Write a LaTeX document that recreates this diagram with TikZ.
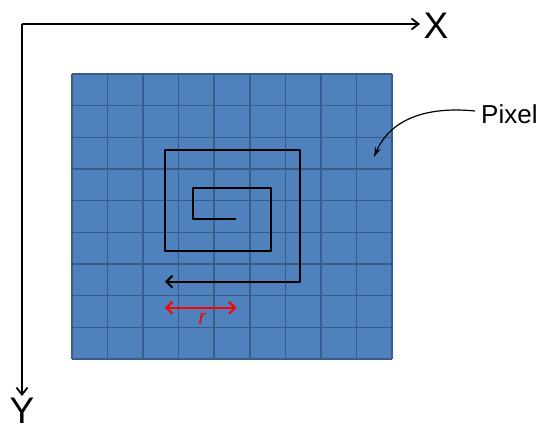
\documentclass[tikz,border=0pt]{standalone}
\usepackage{fontspec}
\setmainfont{Liberation Sans}
\usetikzlibrary{arrows.meta}
\definecolor{cellblue}{HTML}{4F81BD}
\definecolor{gridline}{HTML}{385D8A}
\definecolor{rred}{HTML}{FF0000}
\begin{document}
\begin{tikzpicture}[x=1pt,y=-1pt,
  axis/.style={line width=1.8pt,-{Straight Barb[length=7pt,width=11pt,line width=1.8pt]}},
  spiral/.style={line width=2.2pt,line join=round,-{Straight Barb[length=6pt,width=12pt,line width=2pt]}},
  rarrow/.style={line width=2.2pt,draw=rred,{Straight Barb[length=6pt,width=12pt,line width=2pt]}-{Straight Barb[length=6pt,width=12pt,line width=2pt]}},
  callout/.style={line width=1.2pt,-{Stealth[length=10pt,width=6pt]}},
  bigl/.style={font=\fontsize{37}{37}\selectfont,inner sep=0pt},
  pixl/.style={font=\fontsize{26}{26}\selectfont,inner sep=0pt,anchor=west},
  rl/.style={font=\fontsize{21}{21}\selectfont\itshape,text=rred,inner sep=0pt}]
\useasboundingbox (0,0) rectangle (543,428);
% grid
\fill[cellblue] (72,74) rectangle (392,359);
\foreach \i in {0,...,9} {
  \draw[gridline,line width=1.5pt] ({72+\i*320/9},74) -- ({72+\i*320/9},359);
  \draw[gridline,line width=1.5pt] (72,{74+\i*285/9}) -- (392,{74+\i*285/9});
}
% axes
\coordinate (O) at (22,24);
\coordinate (xe) at (420,24);
\coordinate (ye) at (22,396);
\node[bigl] (X) at (436,26) {X};
\node[bigl,anchor=north] (Y) at (22,398) {Y};
\draw[axis] (O) -- (xe);
\draw[axis] (O) -- (ye);
% spiral
\coordinate (s0) at (235.7,219.3);
\coordinate (s1) at (193.3,219.3);
\coordinate (s2) at (193.3,188.3);
\coordinate (s3) at (271.3,188.3);
\coordinate (s4) at (271.3,251);
\coordinate (s5) at (165.3,251);
\coordinate (s6) at (165.3,150.3);
\coordinate (s7) at (300,150.3);
\coordinate (s8) at (300,281.7);
\coordinate (s9) at (165,281.7);
\draw[spiral] (s0) -- (s1) -- (s2) -- (s3) -- (s4) -- (s5) -- (s6) -- (s7) -- (s8) -- (s9);
% r
\coordinate (r1) at (165,307.7);
\coordinate (r2) at (236.5,307.7);
\draw[rarrow] (r1) -- (r2);
\node[rl] (r) at (202,319) {r};
% pixel callout
\node[pixl] (P) at (481,114) {Pixel};
\coordinate (pt) at (374,157);
\draw[callout] (P.west) ++(-6,-3) .. controls (425,106) and (390,120) .. (pt);
\end{tikzpicture}
\end{document}
